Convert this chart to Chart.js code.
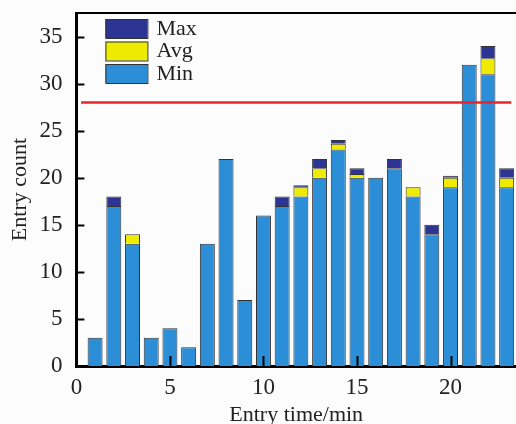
<!DOCTYPE html>
<html lang="en">
<head>
    <meta charset="UTF-8">
    <title>Entry count per minute</title>
    <script src="https://cdn.jsdelivr.net/npm/chart.js@4.4.1/dist/chart.umd.min.js"></script>
    <style>
        body {
            margin: 0;
            padding: 0;
            background: #fcfcfc;
        }
        #wrap {
            width: 516px;
            height: 424px;
        }
    </style>
</head>
<body>
    <div id="wrap">
        <canvas id="entryChart" width="516" height="424"></canvas>
    </div>

    <script>
        // Entry time (minute) of each bar
        const minutes = [1, 2, 3, 4, 5, 6, 7, 8, 9, 10, 11, 12, 13, 14, 15, 16, 17, 18, 19, 20, 21, 22, 23];
        // Min / Avg / Max entry counts (top of each coloured segment)
        const minVals = [3, 17, 13, 3, 4, 2, 13, 22, 7, 16, 17, 18, 20, 23, 20, 20, 21, 18, 14, 19, 32, 31, 19];
        const avgVals = [3, 17, 14, 3, 4, 2, 13, 22, 7, 16, 17, 19, 21, 23.6, 20.4, 20, 21, 19, 14, 20, 32, 32.7, 20];
        const maxVals = [3, 18, 14, 3, 4, 2, 13, 22, 7, 16, 18, 19.2, 22, 24, 21, 20, 22, 19, 15, 20.2, 32, 34, 21];
        // Capacity threshold line
        const threshold = 28;
        const thresholdRange = [0.25, 23.25];
        const xTicks = [0, 5, 10, 15, 20];
        const yTicks = [0, 5, 10, 15, 20, 25, 30, 35];

        const serif = "'Liberation Serif', 'DejaVu Serif', serif";

        const pts = vals => minutes.map((m, i) => ({ x: m, y: vals[i] }));
        const avgInc = avgVals.map((v, i) => +(v - minVals[i]).toFixed(2));
        const maxInc = maxVals.map((v, i) => +(v - avgVals[i]).toFixed(2));

        // draws the legend inside the plot plus inward tick marks and top border
        const extras = {
            id: 'extras',
            afterDraw(chart) {
                const { ctx, chartArea } = chart;
                const xs = chart.scales.x, ys = chart.scales.y;
                ctx.save();
                ctx.strokeStyle = '#000';
                ctx.lineWidth = 2;
                yTicks.forEach(t => {
                    if (t === 0) return;
                    const py = Math.round(ys.getPixelForValue(t)) + 0.5;
                    ctx.beginPath();
                    ctx.moveTo(chartArea.left, py);
                    ctx.lineTo(chartArea.left + 8, py);
                    ctx.stroke();
                });
                xTicks.forEach(t => {
                    if (t === 0) return;
                    const px = Math.round(xs.getPixelForValue(t)) + 0.5;
                    ctx.beginPath();
                    ctx.moveTo(px, chartArea.bottom);
                    ctx.lineTo(px, chartArea.bottom - 10);
                    ctx.stroke();
                });
                // top border
                ctx.beginPath();
                ctx.moveTo(chartArea.left, chartArea.top);
                ctx.lineTo(chartArea.right + 4, chartArea.top);
                ctx.stroke();

                // legend: Max, Avg, Min
                const items = [chart.data.datasets[3], chart.data.datasets[2], chart.data.datasets[1]];
                const bx = chartArea.left + 29;
                let by = chartArea.top + 6;
                ctx.font = '22px ' + serif;
                ctx.textBaseline = 'middle';
                items.forEach(ds => {
                    ctx.fillStyle = ds.backgroundColor;
                    ctx.fillRect(bx, by, 42, 19);
                    ctx.strokeStyle = '#333';
                    ctx.lineWidth = 1;
                    ctx.strokeRect(bx + 0.5, by + 0.5, 42, 19);
                    ctx.fillStyle = '#222';
                    ctx.fillText(ds.label, bx + 51, by + 10);
                    by += 22.5;
                });
                ctx.restore();
            }
        };

        const ctx = document.getElementById('entryChart').getContext('2d');
        new Chart(ctx, {
            data: {
                datasets: [
                    {
                        type: 'line',
                        label: 'Threshold',
                        data: thresholdRange.map(x => ({ x: x, y: threshold })),
                        borderColor: '#e8262a',
                        borderWidth: 2.5,
                        pointRadius: 0,
                        stack: 'thr',
                        order: 0
                    },
                    {
                        type: 'bar',
                        label: 'Min',
                        data: pts(minVals),
                        backgroundColor: '#2b8ed6',
                        borderColor: '#333',
                        borderWidth: 1,
                        stack: 'bars',
                        order: 1
                    },
                    {
                        type: 'bar',
                        label: 'Avg',
                        data: pts(avgInc),
                        backgroundColor: '#eeea00',
                        borderColor: '#333',
                        borderWidth: 1,
                        stack: 'bars',
                        order: 1
                    },
                    {
                        type: 'bar',
                        label: 'Max',
                        data: pts(maxInc),
                        backgroundColor: '#2d3494',
                        borderColor: '#333',
                        borderWidth: 1,
                        stack: 'bars',
                        order: 1
                    }
                ]
            },
            options: {
                responsive: false,
                animation: false,
                layout: {
                    padding: { top: 13, right: 0, bottom: 0, left: 0 }
                },
                datasets: {
                    bar: {
                        barPercentage: 0.8,
                        categoryPercentage: 1
                    }
                },
                scales: {
                    x: {
                        type: 'linear',
                        stacked: true,
                        offset: false,
                        min: 0,
                        max: 23.5,
                        afterBuildTicks: axis => { axis.ticks = xTicks.map(v => ({ value: v })); },
                        grid: { display: false },
                        border: { color: '#000', width: 3 },
                        ticks: {
                            color: '#222',
                            padding: 0,
                            font: { family: serif, size: 23 }
                        },
                        title: {
                            display: true,
                            text: 'Entry time/min',
                            color: '#222',
                            padding: { top: 0, bottom: -4 },
                            font: { family: serif, size: 22 }
                        }
                    },
                    y: {
                        stacked: true,
                        min: 0,
                        max: 37.5,
                        afterBuildTicks: axis => { axis.ticks = yTicks.map(v => ({ value: v })); },
                        afterFit: axis => { axis.paddingTop = 0; },
                        grid: { display: false },
                        border: { color: '#000', width: 3 },
                        ticks: {
                            color: '#222',
                            padding: 6,
                            font: { family: serif, size: 23 }
                        },
                        title: {
                            display: true,
                            text: 'Entry count',
                            color: '#222',
                            padding: { top: 7, bottom: 0 },
                            font: { family: serif, size: 22 }
                        }
                    }
                },
                plugins: {
                    legend: { display: false },
                    tooltip: { enabled: false }
                }
            },
            plugins: [extras]
        });
    </script>
</body>
</html>
